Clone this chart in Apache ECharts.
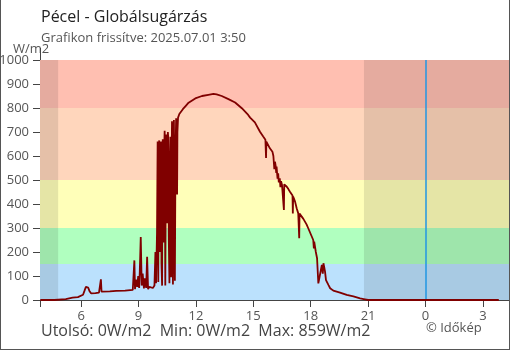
<!DOCTYPE html>
<html>
<head>
<meta charset="utf-8">
<script src="https://cdn.jsdelivr.net/npm/echarts@6/dist/echarts.min.js"></script>
<style>
  html, body { margin: 0; padding: 0; background: #fff; }
  #chart { width: 510px; height: 350px; box-sizing: border-box;
           border-left: 1px solid #555; border-right: 1px solid #555; border-bottom: 1px solid #555; }
</style>
</head>
<body>
<div id="chart"></div>
<script>
// Pécel station, global radiation, 2025.06.30 03:51 – 2025.07.01 03:50
const times = [
  '03:52','04:36','04:37','05:12','05:13','05:33','05:50','05:52','06:06','06:11',
  '06:15','06:19','06:22','06:26','06:31','06:45','06:56','07:01','07:02','07:04',
  '07:30','07:50','08:18','08:42','08:44','08:47','08:49','08:52','08:56','08:59',
  '09:02','09:04','09:07','09:10','09:13','09:17','09:20','09:24','09:27','09:30',
  '09:34','09:40','09:45','09:50','09:53','09:55','09:58','10:00','10:01','10:02',
  '10:03','10:05','10:06','10:08','10:09','10:11','10:12','10:14','10:15','10:16',
  '10:18','10:19','10:21','10:22','10:23','10:24','10:26','10:27','10:29','10:30',
  '10:32','10:33','10:35','10:37','10:38','10:40','10:41','10:42','10:44','10:45',
  '10:47','10:48','10:50','10:51','10:53','10:54','10:56','10:58','10:59','11:01',
  '11:02','11:04','11:08','11:19','11:29','11:37','11:58','12:19','12:39','12:55',
  '13:05','13:21','13:42','14:03','14:24','14:44','14:50','15:05','15:21','15:31',
  '15:38','15:40','15:41','15:52','16:00','16:03','16:06','16:08','16:10','16:12',
  '16:13','16:16','16:18','16:20','16:23','16:25','16:27','16:30','16:32','16:36',
  '16:37','16:45','16:50','16:55','17:03','17:04','17:05','17:11','17:16','17:21',
  '17:24','17:25','17:29','17:37','17:47','17:52','18:00','18:08','18:10','18:11',
  '18:16','18:20','18:24','18:27','18:32','18:35','18:38','18:40','18:42','18:45',
  '18:48','18:52','18:56','19:01','19:11','19:32','19:53','20:14','20:35','20:50',
  '21:00','00:00','03:50'
];
const irradiance = [
  0, 0, 3, 4, 8, 10, 12, 19, 22, 40,
  55, 58, 52, 38, 28, 29, 31, 36, 86, 35,
  36, 38, 39, 42, 45, 165, 45, 85, 55, 100,
  50, 120, 262, 60, 110, 48, 90, 50, 180, 45,
  55, 48, 50, 60, 200, 70, 280, 660, 420, 75,
  610, 665, 330, 200, 640, 660, 150, 60, 580, 670,
  240, 300, 650, 705, 410, 60, 600, 690, 320, 550,
  700, 680, 250, 70, 560, 680, 340, 95, 600, 745,
  200, 65, 700, 750, 300, 80, 620, 757, 600, 440,
  700, 760, 775, 795, 810, 822, 840, 850, 855, 859,
  857, 850, 837, 823, 799, 771, 760, 740, 701, 681,
  668, 592, 660, 632, 618, 600, 545, 576, 560, 530,
  556, 505, 528, 490, 507, 470, 495, 480, 485, 375,
  482, 472, 462, 451, 435, 360, 431, 410, 382, 361,
  257, 360, 355, 338, 315, 300, 275, 250, 215, 243,
  201, 174, 69, 62, 125, 146, 110, 153, 140, 118,
  83, 76, 62, 49, 39, 31, 21, 15, 7, 3,
  0, 0, 0
];
// radiation bands (W/m2) and their fill colours
const bandEdges = [0, 150, 300, 500, 800, 1000];
const bandColors = ['#bbe1fd', '#b0ffbf', '#ffffb9', '#ffd6bc', '#ffbfb1'];
// axis span and markers, in hours counted from midnight of the first day
const axisStart = '03:51', axisEnd = '04:22+1';
const sunrise = '04:48', sunset = '20:47', nowMark = '00:00+1';
const hourTicks = ['06:00', '09:00', '12:00', '15:00', '18:00', '21:00', '00:00+1', '03:00+1'];

function hours(t) {
  const h = parseInt(t.slice(0, 2), 10), m = parseInt(t.slice(3, 5), 10);
  return h + m / 60 + (t.endsWith('+1') ? 24 : 0);
}

// times roll over to the next day when the clock goes backwards
let offset = 0, prev = -1;
const points = times.map((t, i) => {
  const h = hours(t);
  if (h < prev) offset = 24;
  prev = h;
  return [h + offset, irradiance[i]];
});

const xMin = hours(axisStart), xMax = hours(axisEnd);
const tickVals = hourTicks.map(hours);

const bandAreas = bandColors.map((c, i) => [
  { yAxis: bandEdges[i], itemStyle: { color: c } },
  { yAxis: bandEdges[i + 1] }
]);
const nightStyle = { color: 'rgba(0,0,0,0.1)' };
const nightAreas = [
  [{ xAxis: xMin, itemStyle: nightStyle }, { xAxis: hours(sunrise) }],
  [{ xAxis: hours(sunset), itemStyle: nightStyle }, { xAxis: xMax }]
];

const FONT = '"Open Sans", sans-serif';
const chart = echarts.init(document.getElementById('chart'), null, { renderer: 'canvas' });
const xCommon = { type: 'value', min: xMin, max: xMax, splitLine: { show: false } };
chart.setOption({
  animation: false,
  grid: { left: 39, top: 60, right: 0, bottom: 49, containLabel: false, outerBoundsMode: 'none' },
  xAxis: [
    Object.assign({}, xCommon, {
      axisLine: { lineStyle: { color: '#444', width: 1 } },
      axisTick: { show: true, length: 7, lineStyle: { color: '#444' }, customValues: tickVals },
      axisLabel: {
        color: '#555', fontSize: 13, fontFamily: FONT, margin: 10,
        customValues: tickVals,
        formatter: v => String(Math.round(v) % 24)
      }
    }),
    Object.assign({}, xCommon, {
      axisLine: { show: false },
      axisTick: { show: true, inside: true, length: 6, lineStyle: { color: '#444' }, customValues: tickVals },
      axisLabel: { show: false }
    })
  ],
  yAxis: {
    type: 'value', min: 0, max: 1000, interval: 100,
    axisLine: { show: true, lineStyle: { color: '#444' } },
    axisTick: { show: true, length: 7, lineStyle: { color: '#444' } },
    axisLabel: { color: '#555', fontSize: 13, fontFamily: FONT, margin: 11, formatter: v => String(v) },
    splitLine: { show: false }
  },
  series: [{
    type: 'line',
    data: points,
    symbol: 'none',
    z: 5,
    lineStyle: { color: '#800000', width: 1.8 },
    markArea: { silent: true, z: 1, data: bandAreas.concat(nightAreas) },
    markLine: {
      silent: true, symbol: 'none', z: 3,
      label: { show: false },
      lineStyle: { color: '#2196e3', width: 1.5, type: 'solid' },
      data: [{ xAxis: hours(nowMark) }]
    }
  }],
  graphic: [
    { type: 'text', left: 40, top: 9, style: { text: 'Pécel - Globálsugárzás', fontSize: 16, fontFamily: FONT, fill: '#222' } },
    { type: 'text', left: 40, top: 32, style: { text: 'Grafikon frissítve: 2025.07.01 3:50', fontSize: 13, fontFamily: FONT, fill: '#555' } },
    { type: 'text', left: 12, top: 43, style: { text: 'W/m2', fontSize: 13, fontFamily: FONT, fill: '#555' } },
    { type: 'text', left: 40, top: 323, style: { text: 'Utolsó: 0W/m2  Min: 0W/m2  Max: 859W/m2', fontSize: 16, fontFamily: FONT, fill: '#444' } },
    { type: 'text', left: 425, top: 322, style: { text: '© Időkép', fontSize: 13, fontFamily: FONT, fill: '#555' } },
    { type: 'line', shape: { x1: 39.5, y1: 48, x2: 39.5, y2: 60 }, style: { stroke: '#444', lineWidth: 1 } },
    { type: 'line', shape: { x1: 39.5, y1: 300, x2: 39.5, y2: 307 }, style: { stroke: '#444', lineWidth: 1 } }
  ]
});
</script>
</body>
</html>
